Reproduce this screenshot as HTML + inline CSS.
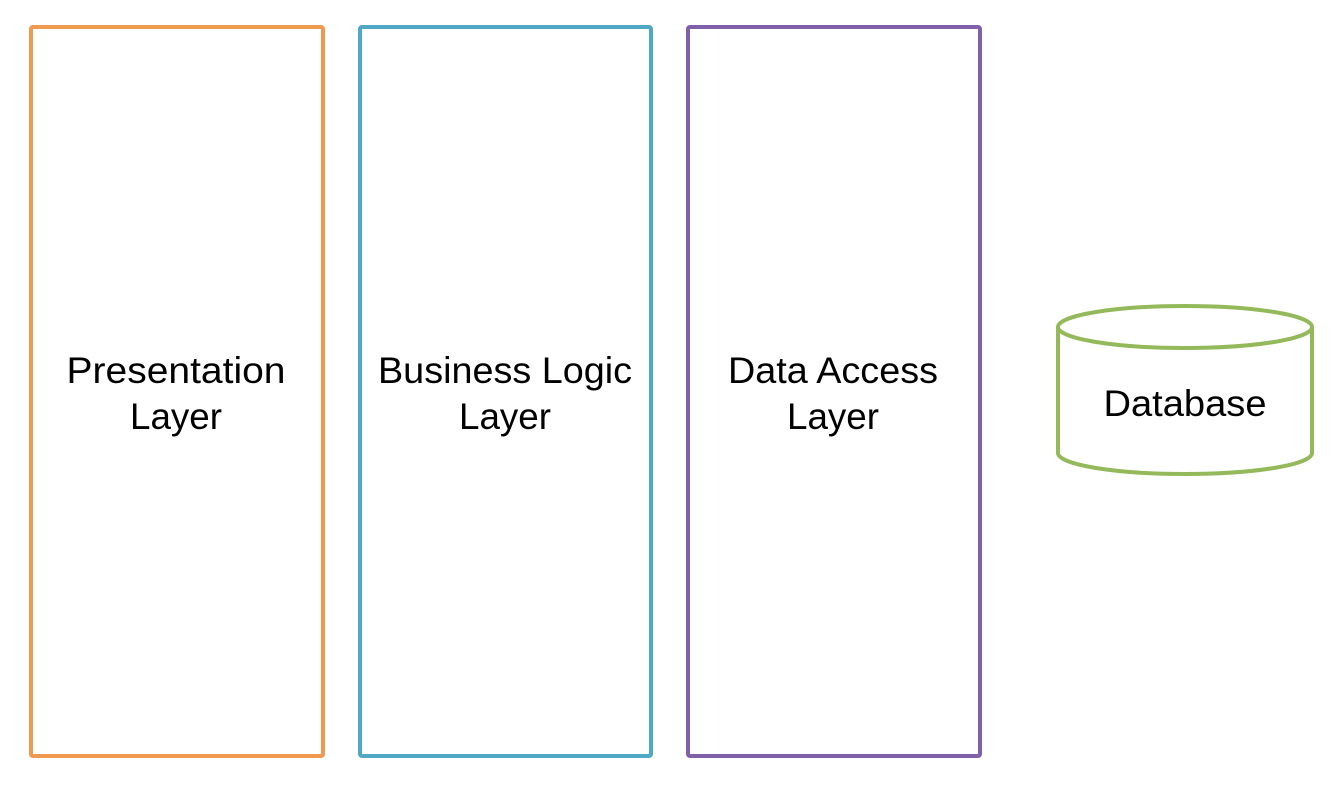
<!DOCTYPE html>
<html><head><meta charset="utf-8"><style>html,body{margin:0;padding:0;background:#fff}</style></head>
<body>
<svg width="1340" height="787" xmlns="http://www.w3.org/2000/svg" font-family="'Liberation Sans', sans-serif" font-size="37" fill="#000">
<rect x="31" y="27" width="292" height="729" fill="none" stroke="#f09a50" stroke-width="4" rx="2"/>
<rect x="360" y="27" width="291" height="729" fill="none" stroke="#4fa9c4" stroke-width="4" rx="2"/>
<rect x="688" y="27" width="292" height="729" fill="none" stroke="#8060a8" stroke-width="4" rx="2"/>
<path d="M1058,327 L1058,453 A127,21 0 0 0 1312,453 L1312,327" fill="none" stroke="#93b95a" stroke-width="4"/>
<ellipse cx="1185" cy="327" rx="127" ry="21" fill="none" stroke="#93b95a" stroke-width="4"/>
<g text-anchor="middle">
<text x="176" y="383" textLength="219" lengthAdjust="spacingAndGlyphs">Presentation</text>
<text x="176" y="429" textLength="92" lengthAdjust="spacingAndGlyphs">Layer</text>
<text x="505" y="383" textLength="254" lengthAdjust="spacingAndGlyphs">Business Logic</text>
<text x="505" y="429" textLength="92" lengthAdjust="spacingAndGlyphs">Layer</text>
<text x="833" y="383" textLength="210" lengthAdjust="spacingAndGlyphs">Data Access</text>
<text x="833" y="429" textLength="92" lengthAdjust="spacingAndGlyphs">Layer</text>
<text x="1185" y="416" textLength="163" lengthAdjust="spacingAndGlyphs">Database</text>
</g>
</svg>
</body></html>
